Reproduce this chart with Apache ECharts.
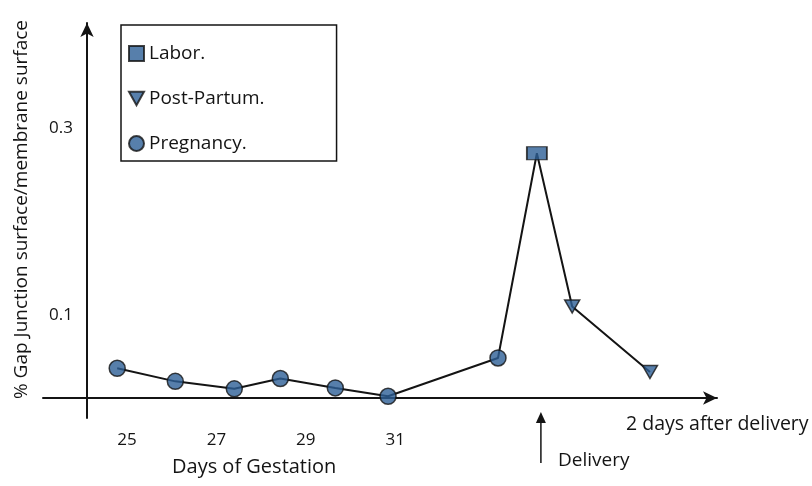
<!DOCTYPE html>
<html>
<head>
<meta charset="utf-8">
<script src="https://cdn.jsdelivr.net/npm/echarts@6/dist/echarts.min.js"></script>
<style>
  html, body { margin: 0; background: #fff; }
  #chart { width: 812px; height: 486px; }
</style>
</head>
<body>
<div id="chart"></div>
<script>
// values
const pregnancyDays = [24.78, 26.08, 27.40, 28.43, 29.66, 30.84, 33.30];
const pregnancyValues = [0.043, 0.029, 0.021, 0.032, 0.022, 0.013, 0.054];
const laborDays = [34.17];
const laborValues = [0.273];
const postPartumDays = [34.96, 36.70];
const postPartumValues = [0.109, 0.039];
const xTickLabels = [25, 27, 29, 31];
const yTickLabels = [0.1, 0.3];
const deliveryDay = 34.26;

const font = '"Open Sans", Lato, sans-serif';
const markerColor = '#2D5F96';
const ink = '#141414';

const pairs = (xs, ys) => xs.map((x, i) => [x, ys[i]]);
const pregnancy = pairs(pregnancyDays, pregnancyValues);
const labor = pairs(laborDays, laborValues);
const postPartum = pairs(postPartumDays, postPartumValues);
// one line runs through every point in time order
const allPoints = pregnancy.concat(labor, postPartum);

const markerStyle = { color: markerColor, borderColor: ink, borderWidth: 1.5 };

const chart = echarts.init(document.getElementById('chart'), null, { renderer: 'canvas' });

const option = {
  backgroundColor: '#fff',
  animation: false,
  textStyle: { fontFamily: font },
  grid: { left: 43, right: 95, top: 23, bottom: 68, containLabel: false, outerBoundsMode: 'none' },
  legend: {
    orient: 'vertical',
    left: 121,
    top: 25,
    padding: [19, 72, 8, 7],
    itemGap: 26,
    itemWidth: 15,
    itemHeight: 15,
    borderColor: ink,
    borderWidth: 1.5,
    textStyle: { fontFamily: font, fontSize: 19, color: ink },
    data: [
      { name: 'Labor.', icon: 'rect' },
      { name: 'Post-Partum.', icon: 'path://M0,0L10,0L5,9Z' },
      { name: 'Pregnancy.', icon: 'circle' }
    ]
  },
  xAxis: {
    type: 'value',
    min: 23.12,
    max: 38.2,
    splitLine: { show: false },
    axisTick: { show: false },
    axisLine: {
      show: true,
      onZero: true,
      onZeroAxisIndex: 1,
      symbol: ['none', 'arrow'],
      symbolSize: [10, 14],
      lineStyle: { color: ink, width: 2 }
    },
    axisLabel: {
      customValues: xTickLabels,
      margin: 14,
      fontSize: 17,
      color: ink,
      fontFamily: font
    }
  },
  yAxis: [
    {
      type: 'value',
      min: -0.0102,
      max: 0.4123,
      offset: -44,
      splitLine: { show: false },
      axisTick: { show: false },
      axisLine: {
        show: true,
        symbol: ['none', 'arrow'],
        symbolSize: [10, 14],
        lineStyle: { color: ink, width: 2 }
      },
      axisLabel: {
        customValues: yTickLabels,
        margin: 14,
        fontSize: 17,
        color: ink,
        fontFamily: font
      },
      name: '% Gap Junction surface/membrane surface',
      nameLocation: 'middle',
      nameRotate: 90,
      nameGap: 56,
      nameTextStyle: { fontSize: 19, color: ink, fontFamily: font, padding: [0, 0, 0, 22] }
    },
    {
      // hidden scale that only places the x axis line a little above zero
      type: 'value',
      show: false,
      min: -20,
      max: 375
    }
  ],
  series: [
    {
      name: 'trend',
      type: 'line',
      data: allPoints,
      symbol: 'none',
      lineStyle: { color: ink, width: 2 },
      z: 1
    },
    {
      name: 'Pregnancy.',
      type: 'scatter',
      data: pregnancy,
      symbol: 'circle',
      symbolSize: 16,
      itemStyle: markerStyle,
      z: 3
    },
    {
      name: 'Labor.',
      type: 'scatter',
      data: labor,
      symbol: 'rect',
      symbolSize: [20, 13],
      itemStyle: markerStyle,
      z: 3
    },
    {
      name: 'Post-Partum.',
      type: 'scatter',
      data: postPartum,
      symbol: 'triangle',
      symbolRotate: 180,
      symbolSize: [15, 13],
      itemStyle: markerStyle,
      z: 3
    }
  ]
};

chart.setOption(option);

// annotations below the axis
const dx = chart.convertToPixel({ xAxisIndex: 0 }, deliveryDay);
chart.setOption({
  graphic: [
    {
      type: 'text',
      left: 172,
      top: 457,
      style: { text: 'Days of Gestation', fontSize: 20, fontFamily: font, fill: ink }
    },
    {
      type: 'text',
      left: 626,
      top: 414,
      style: { text: '2 days after delivery', fontSize: 19.5, fontFamily: font, fill: ink }
    },
    {
      type: 'text',
      left: 558,
      top: 451,
      style: { text: 'Delivery', fontSize: 19, fontFamily: font, fill: ink }
    },
    {
      type: 'line',
      shape: { x1: dx, y1: 463, x2: dx, y2: 420 },
      style: { stroke: ink, lineWidth: 1.5 }
    },
    {
      type: 'polygon',
      shape: { points: [[dx - 5, 423], [dx + 5, 423], [dx, 412]] },
      style: { fill: ink }
    }
  ]
});
</script>
</body>
</html>
